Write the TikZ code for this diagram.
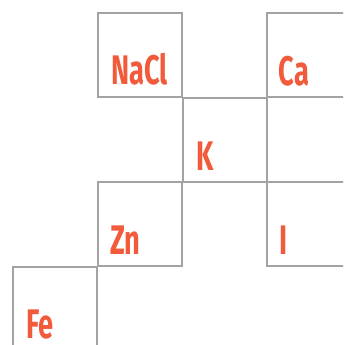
\documentclass[tikz,border=0pt]{standalone}
\usepackage{fontspec}
\newfontfamily\elfont[FakeStretch=0.66]{Fira Sans Bold}
\definecolor{elred}{HTML}{F15A3A}
\definecolor{boxgray}{HTML}{A3A3A3}
\begin{document}
\begin{tikzpicture}[x=0.75pt,y=-0.75pt,
  cell/.style={draw=boxgray,line width=1.1pt,minimum width=63pt,minimum height=63pt,anchor=north west,inner sep=0pt,outer sep=0pt},
  sym/.style={text=elred,font=\elfont\fontsize{31}{34}\selectfont,anchor=base west,inner sep=0pt}]
\useasboundingbox (0,0) rectangle (343,345);
\clip (0,0) rectangle (343,345);
\node[cell] (nacl) at (98,13) {};
\node[cell] (ca) at (267,13) {};
\node[cell] (k) at (183,98) {};
\node[cell] (zn) at (98,182) {};
\node[cell] (i) at (267,182) {};
\node[cell] (fe) at (13,267) {};
\node[sym] (tnacl) at ([xshift=9.75pt,yshift=9pt]nacl.south west) {NaCl};
\node[sym] (tca) at ([xshift=8.5pt,yshift=8.5pt]ca.south west) {Ca};
\node[sym] (tk) at ([xshift=9.75pt,yshift=8.5pt]k.south west) {K};
\node[sym] (tzn) at ([xshift=9pt,yshift=8.5pt]zn.south west) {Zn};
\node[sym] (ti) at ([xshift=9pt,yshift=8.5pt]i.south west) {I};
\node[sym] (tfe) at ([xshift=10pt,yshift=9.5pt]fe.south west) {Fe};
\end{tikzpicture}
\end{document}
